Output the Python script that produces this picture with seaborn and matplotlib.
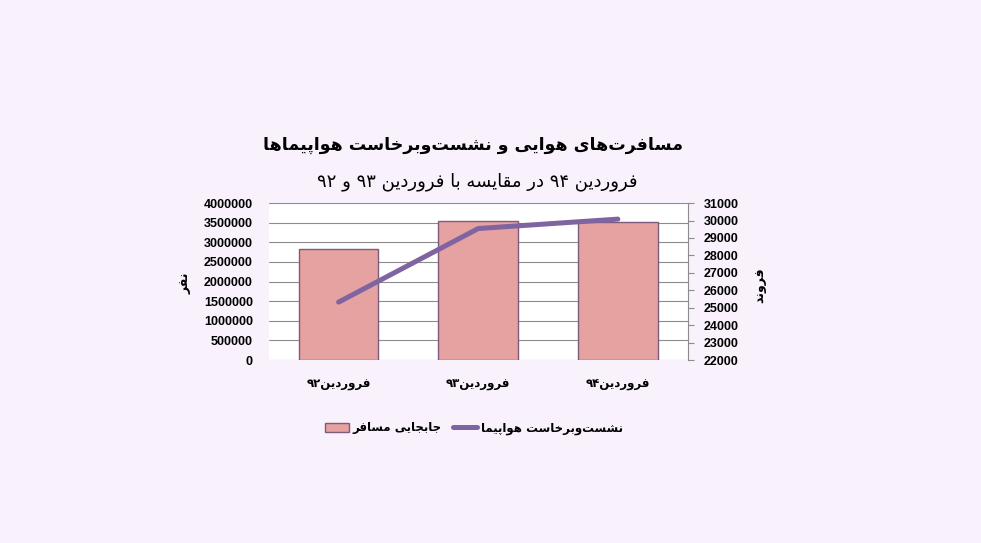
import re
import numpy as np
import pandas as pd
import matplotlib
matplotlib.use('Agg')
import matplotlib.pyplot as plt
from matplotlib.ticker import FuncFormatter
import seaborn as sns

# data
months = ['فروردین۹۲', 'فروردین۹۳', 'فروردین۹۴']
passengers = [2820000, 3550000, 3530000]
flights = [25320, 29540, 30080]

title = 'مسافرت‌های هوایی و نشست‌وبرخاست هواپیماها'
subtitle = 'فروردین ۹۴ در مقایسه با فروردین ۹۳ و ۹۲'
bar_name = 'جابجایی مسافر'
line_name = 'نشست‌وبرخاست هواپیما'
left_label = 'نفر'
right_label = 'فروند'

# simple persian shaping (matplotlib has no bidi / joining)
FORMS = {
    'ا': ('\uFE8D', '\uFE8E'),
    'ب': ('\uFE8F', '\uFE90', '\uFE91', '\uFE92'),
    'پ': ('\uFB56', '\uFB57', '\uFB58', '\uFB59'),
    'ت': ('\uFE95', '\uFE96', '\uFE97', '\uFE98'),
    'ج': ('\uFE9D', '\uFE9E', '\uFE9F', '\uFEA0'),
    'خ': ('\uFEA5', '\uFEA6', '\uFEA7', '\uFEA8'),
    'د': ('\uFEA9', '\uFEAA'),
    'ر': ('\uFEAD', '\uFEAE'),
    'س': ('\uFEB1', '\uFEB2', '\uFEB3', '\uFEB4'),
    'ش': ('\uFEB5', '\uFEB6', '\uFEB7', '\uFEB8'),
    'ف': ('\uFED1', '\uFED2', '\uFED3', '\uFED4'),
    'ق': ('\uFED5', '\uFED6', '\uFED7', '\uFED8'),
    'م': ('\uFEE1', '\uFEE2', '\uFEE3', '\uFEE4'),
    'ن': ('\uFEE5', '\uFEE6', '\uFEE7', '\uFEE8'),
    'ه': ('\uFEE9', '\uFEEA', '\uFEEB', '\uFEEC'),
    'و': ('\uFEED', '\uFEEE'),
    '\u06CC': ('\uFBFC', '\uFBFD', '\uFBFE', '\uFBFF'),
}


def fa(text):
    text = text.replace('\u064A', '\u06CC')
    out = []
    for i, c in enumerate(text):
        if c not in FORMS:
            out.append(c)
            continue
        prev = text[i - 1] if i > 0 else ''
        nxt = text[i + 1] if i + 1 < len(text) else ''
        jp = prev in FORMS and len(FORMS[prev]) == 4
        jn = len(FORMS[c]) == 4 and nxt in FORMS
        f = FORMS[c]
        if jp and jn:
            out.append(f[3])
        elif jp:
            out.append(f[1])
        elif jn:
            out.append(f[2])
        else:
            out.append(f[0])
    s = ''.join(out).replace('\u200c', '')[::-1]
    return re.sub(r'[۰-۹0-9]+', lambda m: m.group()[::-1], s)


df = pd.DataFrame({'month': months, 'passengers': passengers, 'flights': flights})

sns.set_theme(style='white')
plt.rcParams['font.family'] = ['DejaVu Sans']
plt.rcParams['text.color'] = 'black'
plt.rcParams['xtick.color'] = 'black'
plt.rcParams['ytick.color'] = 'black'

bg = '#F9F1FB'
bar_col = '#E6A1A1'
edge_col = '#7D5B7D'
line_col = '#8064A2'
grid_col = '#8C8C8C'
num_font = ['Liberation Sans', 'DejaVu Sans']

fig = plt.figure(figsize=(9.81, 5.43), dpi=100, facecolor=bg)
ax = fig.add_axes([0.274, 0.337, 0.427, 0.289])
ax.set_facecolor('white')

sns.barplot(data=df, x='month', y='passengers', color=bar_col, width=0.57,
            edgecolor=edge_col, linewidth=1, saturation=1, ax=ax, zorder=2)
ax.set_xlim(-0.5, 2.5)
ax.set_ylim(0, 4000000)
ax.set_yticks(np.arange(0, 4000001, 500000))
ax.yaxis.set_major_formatter(FuncFormatter(lambda v, p: f'{int(v)}'))
ax.yaxis.grid(True, color=grid_col, linewidth=0.8, zorder=0)
ax.set_axisbelow(True)
for s in ['left', 'top', 'bottom', 'right']:
    ax.spines[s].set_visible(False)
ax.set_xticks(range(len(months)))
ax.set_xticklabels([fa(m) for m in months], fontsize=8.5, fontweight='bold')
ax.tick_params(axis='x', length=0, pad=13)
ax.tick_params(axis='y', length=0, pad=11.5, labelsize=9)
for t in ax.get_yticklabels():
    t.set_fontfamily(num_font)
    t.set_fontweight('bold')
ax.set_xlabel('')
ax.set_ylabel('')

ax2 = ax.twinx()
sns.lineplot(x=np.arange(len(months)), y=df['flights'], color=line_col,
             linewidth=3.6, ax=ax2)
ax2.set_ylim(22000, 31000)
ax2.set_yticks(np.arange(22000, 31001, 1000))
ax2.set_xlim(-0.5, 2.5)
ax2.set_ylabel('')
for s in ['left', 'top', 'bottom']:
    ax2.spines[s].set_visible(False)
ax2.spines['right'].set_color(grid_col)
ax2.spines['right'].set_linewidth(0.8)
ax2.tick_params(axis='y', length=4, width=0.8, color=grid_col, labelcolor='black',
                pad=7.5, direction='out', right=True, labelsize=9)
for t in ax2.get_yticklabels():
    t.set_fontfamily(num_font)
    t.set_fontweight('bold')

fig.text(185 / 981, 1 - 283 / 543, fa(left_label), rotation=90, ha='center', va='center',
         fontsize=9, fontweight='bold')
fig.text(760 / 981, 1 - 285 / 543, fa(right_label), rotation=90, ha='center', va='center',
         fontsize=9, fontweight='bold')

fig.text(473 / 981, 1 - 145 / 543, fa(title), ha='center', va='center',
         fontsize=12.5, fontweight='bold')
fig.text(477 / 981, 1 - 182 / 543, fa(subtitle), ha='center', va='center', fontsize=13)

handles = [ax.patches[0], ax2.lines[0]]
fig.legend(handles, [fa(bar_name), fa(line_name)], loc='center',
           bbox_to_anchor=(474 / 981, 1 - 428 / 543), ncol=2, frameon=False,
           prop={'weight': 'bold', 'size': 8.5}, handlelength=2.0, handleheight=0.8,
           columnspacing=1.0, handletextpad=0.3)

fig.savefig('out.png', dpi=100, facecolor=bg)
